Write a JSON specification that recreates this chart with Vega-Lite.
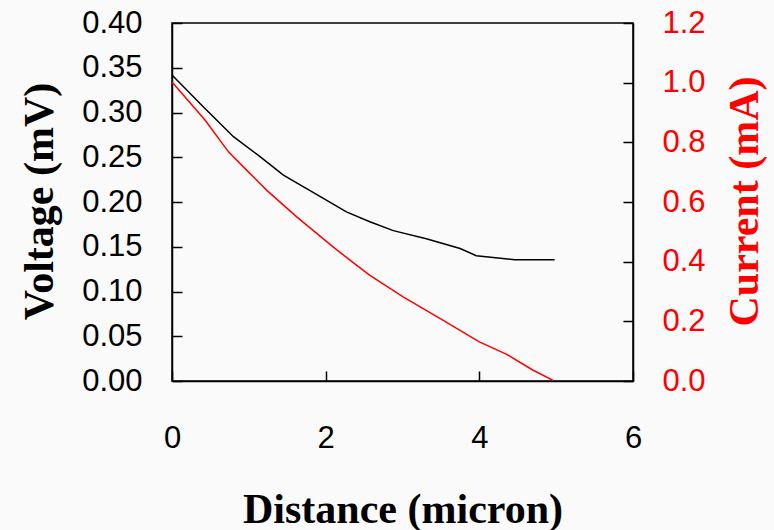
{
  "$schema": "https://vega.github.io/schema/vega-lite/v6.json",
  "autosize": "none",
  "width": 461,
  "height": 358,
  "padding": {"left": 172, "top": 23, "right": 141, "bottom": 149},
  "background": "#fafafa",
  "config": {
    "view": {"stroke": "#000", "strokeWidth": 1.5},
    "axis": {
      "grid": false,
      "labelFont": "Liberation Sans",
      "labelFontSize": 31,
      "labelColor": "#000",
      "titleFont": "Liberation Serif",
      "titleFontWeight": "bold",
      "titleFontSize": 42,
      "titleColor": "#000",
      "domainColor": "#000",
      "domainWidth": 1.5,
      "tickColor": "#000",
      "tickWidth": 1.5,
      "tickSize": -10,
      "labelFlush": false
    }
  },
  "datasets": {
    "volt": [
      {"distance": 0.0, "voltage": 0.342},
      {"distance": 0.4, "voltage": 0.307},
      {"distance": 0.8, "voltage": 0.273},
      {"distance": 1.125, "voltage": 0.252},
      {"distance": 1.45, "voltage": 0.230},
      {"distance": 1.97, "voltage": 0.204},
      {"distance": 2.27, "voltage": 0.189},
      {"distance": 2.575, "voltage": 0.178},
      {"distance": 2.88, "voltage": 0.168},
      {"distance": 3.31, "voltage": 0.159},
      {"distance": 3.75, "voltage": 0.148},
      {"distance": 3.96, "voltage": 0.140},
      {"distance": 4.18, "voltage": 0.138},
      {"distance": 4.46, "voltage": 0.1356},
      {"distance": 4.98, "voltage": 0.1356}
    ],
    "curr": [
      {"distance": 0.0, "current": 1.002},
      {"distance": 0.432, "current": 0.874},
      {"distance": 0.735, "current": 0.768},
      {"distance": 0.974, "current": 0.706},
      {"distance": 1.234, "current": 0.639},
      {"distance": 1.623, "current": 0.550},
      {"distance": 2.1, "current": 0.449},
      {"distance": 2.316, "current": 0.405},
      {"distance": 2.576, "current": 0.354},
      {"distance": 3.008, "current": 0.282},
      {"distance": 3.53, "current": 0.203},
      {"distance": 4.0, "current": 0.131},
      {"distance": 4.35, "current": 0.090},
      {"distance": 4.70, "current": 0.036},
      {"distance": 4.96, "current": 0.002}
    ]
  },
  "layer": [
    {
      "data": {"name": "volt"},
      "mark": {"type": "line", "color": "#000", "strokeWidth": 1.5},
      "encoding": {
        "x": {
          "field": "distance", "type": "quantitative",
          "scale": {"domain": [0, 6], "nice": false},
          "axis": {
            "values": [0, 2, 4, 6],
            "format": "d",
            "labelPadding": 76,
            "labelBaseline": "alphabetic",
            "title": "Distance (micron)",
            "titleBaseline": "alphabetic",
            "titleY": 141
          }
        },
        "y": {
          "field": "voltage", "type": "quantitative",
          "scale": {"domain": [0, 0.4], "nice": false},
          "axis": {
            "values": [0, 0.05, 0.1, 0.15, 0.2, 0.25, 0.3, 0.35, 0.4],
            "format": ".2f",
            "labelPadding": 40,
            "title": "Voltage (mV)",
            "titleAngle": 270,
            "titleBaseline": "alphabetic",
            "titleX": -120,
            "titleY": 178
          }
        }
      }
    },
    {
      "data": {"name": "curr"},
      "mark": {"type": "line", "color": "#ff0000", "strokeWidth": 1.5},
      "encoding": {
        "x": {"field": "distance", "type": "quantitative"},
        "y": {
          "field": "current", "type": "quantitative",
          "scale": {"domain": [0, 1.2], "nice": false},
          "axis": {
            "orient": "right",
            "values": [0, 0.2, 0.4, 0.6, 0.8, 1.0, 1.2],
            "format": ".1f",
            "labelPadding": 39,
            "labelColor": "#ff0000",
            "title": "Current (mA)",
            "titleColor": "#ff0000",
            "titleAngle": 270,
            "titleBaseline": "alphabetic",
            "titleX": 124,
            "titleY": 178
          }
        }
      }
    }
  ],
  "resolve": {"scale": {"y": "independent"}}
}
